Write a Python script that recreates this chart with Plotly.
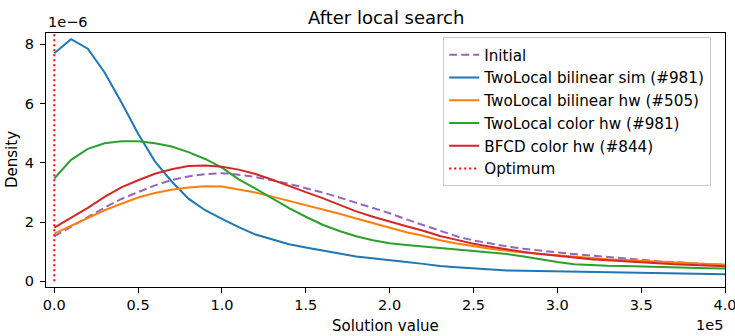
import plotly.graph_objects as go

# Solution-value grid (units of 1e5) and kernel density estimates (units of 1e-6)
x_grid = [round(0.1 * i, 1) for i in range(41)]

initial = [1.52, 1.85, 2.17, 2.49, 2.78, 3.02, 3.24, 3.42, 3.54, 3.62,
           3.65, 3.60, 3.52, 3.41, 3.29, 3.14, 3.00, 2.83, 2.65, 2.48,
           2.30, 2.09, 1.90, 1.70, 1.52, 1.38, 1.27, 1.18, 1.10, 1.03,
           0.98, 0.92, 0.87, 0.81, 0.76, 0.72, 0.68, 0.65, 0.61, 0.58, 0.55]

twolocal_bilinear_sim = [7.70, 8.17, 7.85, 7.05, 6.04, 4.98, 4.05, 3.37, 2.79, 2.40,
                         2.11, 1.83, 1.58, 1.41, 1.25, 1.14, 1.03, 0.94, 0.84, 0.77,
                         0.70, 0.65, 0.59, 0.52, 0.48, 0.44, 0.40, 0.37, 0.36, 0.35,
                         0.34, 0.33, 0.32, 0.31, 0.30, 0.29, 0.28, 0.27, 0.26, 0.25, 0.24]

twolocal_bilinear_hw = [1.61, 1.88, 2.13, 2.40, 2.62, 2.83, 2.98, 3.09, 3.17, 3.21,
                        3.20, 3.11, 3.00, 2.86, 2.72, 2.58, 2.44, 2.28, 2.12, 1.96,
                        1.80, 1.66, 1.54, 1.39, 1.28, 1.18, 1.10, 1.03, 0.97, 0.92,
                        0.88, 0.83, 0.79, 0.75, 0.72, 0.69, 0.66, 0.64, 0.61, 0.59, 0.57]

twolocal_color_hw = [3.47, 4.10, 4.47, 4.66, 4.73, 4.73, 4.66, 4.55, 4.36, 4.13,
                     3.84, 3.44, 3.13, 2.80, 2.47, 2.18, 1.91, 1.70, 1.52, 1.39,
                     1.29, 1.23, 1.18, 1.11, 1.06, 1.02, 0.97, 0.92, 0.84, 0.74,
                     0.65, 0.58, 0.55, 0.53, 0.52, 0.50, 0.49, 0.47, 0.46, 0.44, 0.43]

bfcd_color_hw = [1.81, 2.14, 2.48, 2.85, 3.17, 3.41, 3.63, 3.78, 3.89, 3.91,
                 3.87, 3.77, 3.62, 3.43, 3.21, 3.01, 2.81, 2.59, 2.36, 2.18,
                 2.01, 1.86, 1.71, 1.53, 1.40, 1.27, 1.17, 1.07, 0.99, 0.92,
                 0.86, 0.80, 0.75, 0.71, 0.67, 0.64, 0.61, 0.58, 0.56, 0.53, 0.51]

optimum = 0.0

x_ticks = [0.0, 0.5, 1.0, 1.5, 2.0, 2.5, 3.0, 3.5, 4.0]
y_ticks = [0, 2, 4, 6, 8]

X_SCALE = 1e5
Y_SCALE = 1e-6
x_range = [-0.0495, 4.0]
y_range = [-0.19, 8.38]

FONT = "DejaVu Sans"

series = [
    ("Initial", initial, "#9467bd", "8px,4px"),
    ("TwoLocal bilinear sim (#981)", twolocal_bilinear_sim, "#1f77b4", "solid"),
    ("TwoLocal bilinear hw (#505)", twolocal_bilinear_hw, "#ff7f0e", "solid"),
    ("TwoLocal color hw (#981)", twolocal_color_hw, "#2ca02c", "solid"),
    ("BFCD color hw (#844)", bfcd_color_hw, "#d62728", "solid"),
]

xs = [v * X_SCALE for v in x_grid]

fig = go.Figure()
for name, vals, color, dash in series:
    fig.add_trace(go.Scatter(
        x=xs, y=[v * Y_SCALE for v in vals], mode="lines", name=name,
        line=dict(color=color, width=2, dash=dash),
    ))

fig.add_trace(go.Scatter(
    x=[optimum * X_SCALE, optimum * X_SCALE],
    y=[0, y_range[1] * Y_SCALE],
    mode="lines", name="Optimum",
    line=dict(color="#ff0000", width=2, dash="2px,3px"),
))

axis_common = dict(
    showgrid=False, zeroline=False, showline=True, mirror=True,
    linecolor="black", linewidth=1, ticks="outside", ticklen=5,
    tickwidth=1, tickcolor="black", ticklabeloverflow="allow",
    automargin=False,
    tickfont=dict(family=FONT, size=14.5, color="black"),
)

fig.update_layout(
    width=735, height=336,
    margin=dict(l=46, r=10, t=33, b=49, autoexpand=False),
    paper_bgcolor="white", plot_bgcolor="white",
    font=dict(family=FONT, size=15, color="black"),
    showlegend=True,
    legend=dict(
        x=0.585, y=0.983, xanchor="left", yanchor="top",
        bgcolor="rgba(255,255,255,0.8)", bordercolor="#cccccc", borderwidth=1,
        font=dict(family=FONT, size=15.2, color="black"),
        itemwidth=30,
    ),
    xaxis=dict(
        range=[x_range[0] * X_SCALE, x_range[1] * X_SCALE],
        tickvals=[t * X_SCALE for t in x_ticks],
        ticktext=[f"{t:.1f}" for t in x_ticks],
        **axis_common,
    ),
    yaxis=dict(
        range=[y_range[0] * Y_SCALE, y_range[1] * Y_SCALE],
        tickvals=[t * Y_SCALE for t in y_ticks],
        ticktext=[str(t) for t in y_ticks],
        ticklabelstandoff=3,
        **axis_common,
    ),
    annotations=[
        dict(text="After local search", xref="paper", yref="paper",
             x=0.5, y=1, yshift=16, xanchor="center", yanchor="middle",
             showarrow=False, font=dict(family=FONT, size=18, color="black")),
        dict(text="Solution value", xref="paper", yref="paper",
             x=0.5, y=0, yshift=-39, xanchor="center", yanchor="middle",
             showarrow=False, font=dict(family=FONT, size=15, color="black")),
        dict(text="Density", xref="paper", yref="paper",
             x=0, xshift=-34, y=0.5, xanchor="center", yanchor="middle",
             textangle=-90, showarrow=False,
             font=dict(family=FONT, size=15, color="black")),
        dict(text="1e\u22126", xref="paper", yref="paper",
             x=0, y=1, yshift=1, xanchor="left", yanchor="bottom",
             showarrow=False, font=dict(family=FONT, size=14.5, color="black")),
        dict(text="1e5", xref="paper", yref="paper",
             x=1, y=0, yshift=-38, xanchor="right", yanchor="middle",
             showarrow=False, font=dict(family=FONT, size=14.5, color="black")),
    ],
)

fig.write_html("out.html")
